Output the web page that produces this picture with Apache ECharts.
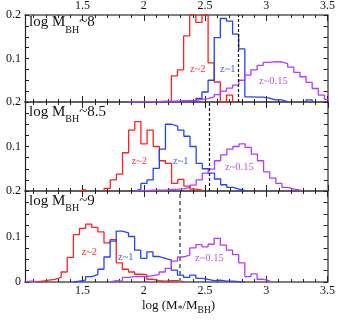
<!DOCTYPE html>
<html>
<head>
<meta charset="utf-8">
<script src="https://cdn.jsdelivr.net/npm/echarts@6/dist/echarts.min.js"></script>
<style>
html, body { margin: 0; padding: 0; background: #fff; }
#chart { width: 338px; height: 320px; }
</style>
</head>
<body>
<div id="chart"></div>
<script>
// all histograms use the same bin width in log(M*/MBH)
var binWidth = 0.05;
var xMin = 1.03, xMax = 3.5;

// log MBH ~8
var red8Start = 2.225;
var red8 = [0.060, 0.074, 0.152, 0.2, 0.183, 0.2, 0.090, 0.046, 0, 0.016];
var blue8Start = 2.425;
var blue8 = [0.008, 0.023, 0.05, 0.148, 0.192, 0.186, 0.156, 0.122, 0.012, 0.011, 0.011, 0.009, 0.005, 0.005, 0.001, null, null, null, 0.005];
var purple8Start = 1.875;
var purple8 = [0.001, 0.001, 0.001, 0.001, 0.001, 0.002, 0.002, 0.002, 0.003, 0.003, 0.004, 0.006, 0.008, 0.012, 0.017, 0.025, 0.032, 0.039, 0.05, 0.062, 0.074, 0.084, 0.091, 0.093, 0.092, 0.088, 0.08, 0.068, 0.058, 0.045, 0.031, 0.016, 0.006];
var dash8 = 2.77;

// log MBH ~8.5
var red85Start = 1.475;
var red85 = [0.003, null, null, null, 0.006, 0.025, 0.038, 0.086, 0.137, 0.156, 0.106, 0.137, 0.1, 0.068, 0.062, 0.017, 0.026, 0.011, 0.004, 0.002];
var blue85Start = 1.925;
var blue85 = [0.004, 0.017, 0.025, 0.051, 0.094, 0.15, 0.146, 0.137, 0.123, 0.1, 0.062, 0.05, 0.04, 0.027, 0.014, 0.008, 0.004, 0.001];
var purple85Start = 1.925;
var purple85 = [0.001, 0.001, 0.002, 0.002, 0.002, 0.003, 0.004, 0.005, 0.008, 0.013, 0.025, 0.04, 0.049, 0.068, 0.081, 0.094, 0.1, 0.106, 0.098, 0.083, 0.068, 0.043, 0.029, 0.017, 0.008, 0.004, 0.002];
var dash85 = 2.53;

// log MBH ~9
var red9Start = 1.125;
var red9 = [0.002, 0.004, 0.006, 0.01, 0.022, 0.054, 0.104, 0.118, 0.127, 0.12, 0.11, 0.086, 0.093, 0.042, 0.028, 0.022, 0.017, 0.016, 0.006, 0.003, 0.002, 0.003, 0.003, 0.001];
var blue9Start = 1.425;
var blue9 = [0.002, 0.004, 0.012, 0.016, 0.028, 0.055, 0.09, 0.112, 0.108, 0.1, 0.07, 0.052, 0.066, 0.056, 0.052, 0.048, 0.026, 0.015, 0.01, 0.015, 0.008, 0.006, 0.003, 0.004, 0.002, 0.002, 0.001, 0.001];
var purple9Start = 1.025;
var purple9 = [0.002, 0.001, null, null, null, null, null, null, null, null, null, null, null, null, 0.003, 0.002, 0.01, 0.012, 0.012, 0.012, 0.014, 0.016, 0.022, 0.03, 0.046, 0.055, 0.059, 0.075, 0.082, 0.077, 0.083, 0.096, 0.081, 0.07, 0.06, 0.042, 0.012, 0.018, 0.006, 0.003];
var dash9 = 2.29;

var panelNames = ['~8', '~8.5', '~9'];
var seriesNames = ['z~2', 'z~1', 'z~0.15'];

var colors = ['#ff2020', '#2242ff', '#b03cff'];
var labelColors = ['#ff3838', '#3a58ff', '#b854f0'];
var serif = '"Liberation Serif", "DejaVu Serif", serif';
var frameColor = '#555';

// turn bins into outline points for a step ('end') line, null bins break the line
function stepData(start, values) {
    var pts = [];
    var open = false;
    for (var i = 0; i < values.length; i++) {
        var e = +(start + i * binWidth).toFixed(3);
        var v = values[i];
        if (v == null) {
            if (open) {
                pts.push([e, 0]);
                pts.push([e, '-']);
                open = false;
            }
            continue;
        }
        if (!open) {
            pts.push([e, 0]);
            open = true;
        }
        pts.push([e, v]);
    }
    if (open) pts.push([+(start + values.length * binWidth).toFixed(3), 0]);
    return pts;
}

var panels = [
    {top: 14, height: 88, hist: [[red8Start, red8], [blue8Start, blue8], [purple8Start, purple8]], dash: dash8,
        dashStyle: {color: '#111', type: [3, 2], width: 1.2},
        labels: [[190, 69], [220, 69], [259, 81]]},
    {top: 102, height: 89, hist: [[red85Start, red85], [blue85Start, blue85], [purple85Start, purple85]], dash: dash85,
        dashStyle: {color: '#111', type: [3, 2], width: 1.2},
        labels: [[131.5, 161], [173, 161], [225, 167]]},
    {top: 191, height: 91, hist: [[red9Start, red9], [blue9Start, blue9], [purple9Start, purple9]], dash: dash9,
        dashStyle: {color: '#808080', type: [4, 3], width: 2},
        labels: [[81.5, 252], [118, 257], [195, 258]]}
];

var grids = [], xAxes = [], yAxes = [], series = [];

panels.forEach(function (p, gi) {
    grids.push({left: 25, right: 10, top: p.top, height: p.height});

    var last = gi === panels.length - 1;
    var xBase = {gridIndex: gi, type: 'value', min: xMin, max: xMax, splitLine: {show: false}};
    var lab = {fontFamily: serif, fontSize: 12, color: '#111', margin: 3, showMinLabel: false};

    // major ticks (0.5) and minor ticks (0.1) as two axes on each side
    xAxes.push(Object.assign({}, xBase, {position: 'bottom', splitNumber: 5,
        axisLine: {show: true, onZero: false, lineStyle: {color: frameColor, width: 1.5}},
        axisTick: {show: true, inside: true, length: 6, lineStyle: {color: '#222'}},
        axisLabel: Object.assign({show: last}, lab)}));
    xAxes.push(Object.assign({}, xBase, {position: 'bottom', splitNumber: 25,
        axisLine: {show: false, onZero: false},
        axisTick: {show: true, inside: true, length: 3, lineStyle: {color: '#222'}},
        axisLabel: {show: false}}));
    xAxes.push(Object.assign({}, xBase, {position: 'top', splitNumber: 5,
        axisLine: {show: true, onZero: false, lineStyle: {color: frameColor, width: 1.5}},
        axisTick: {show: true, inside: true, length: 6, lineStyle: {color: '#222'}},
        axisLabel: Object.assign({show: gi === 0}, lab)}));
    xAxes.push(Object.assign({}, xBase, {position: 'top', splitNumber: 25,
        axisLine: {show: false, onZero: false},
        axisTick: {show: true, inside: true, length: 3, lineStyle: {color: '#222'}},
        axisLabel: {show: false}}));

    var yBase = {gridIndex: gi, type: 'value', min: 0, max: 0.2, interval: 0.1, splitLine: {show: false},
        minorTick: {show: true, splitNumber: 4, length: 4, lineStyle: {color: '#222'}},
        axisTick: {show: true, inside: true, length: 4, lineStyle: {color: '#222'}}};
    yAxes.push(Object.assign({}, yBase, {position: 'left',
        axisLine: {show: true, onZero: false, lineStyle: {color: '#222', width: 1.2}},
        axisLabel: {fontFamily: serif, fontSize: 12, color: '#111', margin: 4,
            formatter: function (v) { return v === 0 ? (last ? '0' : '') : v.toFixed(1); }}}));
    yAxes.push(Object.assign({}, yBase, {position: 'right',
        axisLine: {show: true, onZero: false, lineStyle: {color: frameColor, width: 1.5}},
        axisLabel: {show: false}}));

    p.hist.forEach(function (h, si) {
        var s = {
            type: 'line', name: seriesNames[si], step: 'end',
            xAxisIndex: gi * 4, yAxisIndex: gi * 2,
            data: stepData(h[0], h[1]),
            symbol: 'none', connectNulls: false, clip: true,
            lineStyle: {color: colors[si], width: 1.3},
            itemStyle: {color: colors[si]}
        };
        if (si === 2) {
            s.markLine = {silent: true, symbol: 'none', label: {show: false},
                lineStyle: p.dashStyle, data: [{xAxis: p.dash}]};
        }
        series.push(s);
    });
});

// text with subscripts, laid out piece by piece
var measureCtx = document.createElement('canvas').getContext('2d');
function textWidth(t, size) {
    measureCtx.font = size + 'px ' + serif;
    return measureCtx.measureText(t).width;
}
function subText(parts, x, y, color) {
    var out = [];
    var cx = x;
    parts.forEach(function (q) {
        out.push({type: 'text', x: cx, y: y + (q.dy || 0), silent: true,
            style: {text: q.t, font: q.s + 'px ' + serif, fill: color || '#111', align: 'left', verticalAlign: 'middle'}});
        cx += textWidth(q.t, q.s);
    });
    return out;
}

var graphics = [];
panels.forEach(function (p, gi) {
    var cy = p.top + 8.5 + (gi === 0 ? 0 : 1.5);
    graphics = graphics.concat(subText([{t: 'log M', s: 15}, {t: 'BH', s: 10, dy: 7.5}, {t: panelNames[gi], s: 15}], 29, cy));
    p.labels.forEach(function (l, si) {
        graphics.push({type: 'text', x: l[0], y: l[1], silent: true,
            style: {text: seriesNames[si], font: '10.5px ' + serif, fill: labelColors[si], align: 'left', verticalAlign: 'middle'}});
    });
});

var titleParts = [{t: 'log (M', s: 13}, {t: '*', s: 9.5, dy: 4}, {t: '/M', s: 13}, {t: 'BH', s: 9.5, dy: 5}, {t: ')', s: 13}];
var titleW = 0;
titleParts.forEach(function (q) { titleW += textWidth(q.t, q.s); });
graphics = graphics.concat(subText(titleParts, 178.5 - titleW / 2, 305.5));

var chart = echarts.init(document.getElementById('chart'), null, {renderer: 'canvas', width: 338, height: 320});
chart.setOption({
    animation: false,
    backgroundColor: '#fff',
    grid: grids,
    xAxis: xAxes,
    yAxis: yAxes,
    series: series,
    graphic: graphics
});
</script>
</body>
</html>
